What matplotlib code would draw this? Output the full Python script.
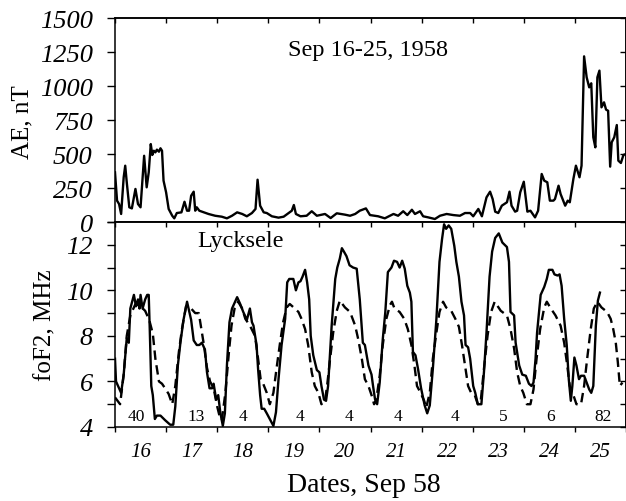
import matplotlib
matplotlib.use('Agg')
import matplotlib.pyplot as plt
from matplotlib.ticker import MultipleLocator, FixedLocator, NullFormatter

plt.rcParams['font.family'] = ['Liberation Serif', 'DejaVu Serif']

# AE index, nT
ae_day = [16.00, 16.04, 16.08, 16.12, 16.17, 16.20, 16.23, 16.28, 16.33, 16.40,
          16.45, 16.50, 16.57, 16.62, 16.66, 16.70, 16.73, 16.76, 16.79, 16.82,
          16.86, 16.89, 16.92, 16.95, 17.00, 17.05, 17.12, 17.16, 17.21, 17.30,
          17.36, 17.41, 17.45, 17.49, 17.54, 17.57, 17.60, 17.65, 17.74, 17.83,
          17.96, 18.09, 18.19, 18.29, 18.39, 18.49, 18.58, 18.68, 18.75, 18.79,
          18.84, 18.91, 18.97, 19.07, 19.20, 19.30, 19.40, 19.46, 19.50, 19.54,
          19.63, 19.75, 19.85, 19.95, 20.11, 20.22, 20.34, 20.50, 20.60, 20.70,
          20.79, 20.91, 20.99, 21.15, 21.28, 21.45, 21.54, 21.64, 21.72, 21.81,
          21.87, 21.97, 22.03, 22.13, 22.26, 22.36, 22.49, 22.62, 22.75, 22.85,
          22.95, 23.01, 23.11, 23.18, 23.27, 23.34, 23.39, 23.44, 23.50, 23.57,
          23.67, 23.72, 23.76, 23.83, 23.87, 23.93, 24.00, 24.07, 24.13, 24.22,
          24.28, 24.35, 24.40, 24.46, 24.51, 24.58, 24.61, 24.68, 24.72, 24.81,
          24.86, 24.90, 24.97, 25.02, 25.09, 25.13, 25.18, 25.23, 25.28, 25.32,
          25.36, 25.40, 25.44, 25.48, 25.52, 25.57, 25.61, 25.65, 25.69, 25.72,
          25.77, 25.82, 25.85, 25.90, 25.95, 26.00]
ae_nt = [365, 157, 132, 59, 329, 414, 292, 108, 100, 243,
         132, 108, 487, 255, 365, 573, 493, 524, 512, 532,
         517, 542, 524, 304, 218, 96, 46, 27, 66, 71,
         149, 83, 83, 193, 223, 83, 108, 83, 71, 59,
         46, 39, 27, 46, 71, 59, 42, 66, 96, 311,
         120, 71, 66, 42, 32, 39, 66, 83, 125, 59,
         42, 46, 79, 46, 59, 29, 64, 54, 46, 59,
         83, 100, 51, 42, 27, 59, 46, 79, 51, 90,
         59, 79, 42, 34, 22, 46, 59, 51, 46, 66,
         66, 42, 96, 42, 181, 223, 169, 76, 66, 120,
         145, 223, 120, 76, 83, 218, 296, 76, 83, 34,
         83, 353, 304, 292, 157, 157, 169, 267, 206, 120,
         157, 145, 316, 414, 329, 414, 1218, 1064, 990, 1020,
         623, 549, 1064, 1113, 843, 880, 826, 818, 407, 586,
         623, 713, 451, 434, 493, 500]

# foF2 observed at Lycksele, MHz
obs_day = [16.00, 16.02, 16.06, 16.12, 16.17, 16.23, 16.27, 16.30, 16.37, 16.41,
           16.45, 16.48, 16.50, 16.54, 16.59, 16.63, 16.66, 16.68, 16.71, 16.74,
           16.78, 16.82, 16.89, 16.98, 17.08, 17.14, 17.18, 17.23, 17.28, 17.34,
           17.41, 17.45, 17.49, 17.54, 17.60, 17.65, 17.70, 17.76, 17.80, 17.85,
           17.90, 17.93, 17.98, 18.02, 18.06, 18.11, 18.15, 18.19, 18.24, 18.29,
           18.39, 18.45, 18.51, 18.58, 18.64, 18.68, 18.71, 18.77, 18.80, 18.84,
           18.87, 18.92, 18.97, 19.03, 19.10, 19.15, 19.20, 19.26, 19.33, 19.37,
           19.41, 19.49, 19.54, 19.59, 19.63, 19.67, 19.72, 19.76, 19.80, 19.83,
           19.88, 19.95, 20.00, 20.04, 20.09, 20.13, 20.17, 20.24, 20.31, 20.35,
           20.40, 20.44, 20.48, 20.53, 20.59, 20.66, 20.73, 20.79, 20.85, 20.89,
           20.96, 21.02, 21.05, 21.09, 21.13, 21.18, 21.24, 21.29, 21.34, 21.41,
           21.46, 21.52, 21.57, 21.62, 21.67, 21.72, 21.77, 21.80, 21.83, 21.88,
           21.93, 21.99, 22.06, 22.11, 22.16, 22.22, 22.29, 22.35, 22.40, 22.44,
           22.48, 22.53, 22.58, 22.64, 22.68, 22.73, 22.78, 22.83, 22.86, 22.91,
           22.95, 23.01, 23.05, 23.10, 23.17, 23.22, 23.27, 23.33, 23.38, 23.44,
           23.51, 23.58, 23.67, 23.71, 23.74, 23.81, 23.84, 23.91, 23.97, 24.04,
           24.10, 24.15, 24.19, 24.23, 24.26, 24.33, 24.40, 24.45, 24.49, 24.56,
           24.60, 24.66, 24.70, 24.74, 24.79, 24.84, 24.88, 24.92, 24.95, 24.99,
           25.03, 25.08, 25.12, 25.18, 25.23, 25.28, 25.32, 25.36, 25.41, 25.45,
           25.49]
fof2_obs = [7.0, 6.0, 5.8, 5.5, 6.3, 7.9, 7.7, 9.2, 9.8, 9.3,
            9.6, 9.2, 9.8, 9.2, 9.6, 9.8, 9.8, 8.3, 5.8, 5.4,
            4.35, 4.5, 4.5, 4.3, 4.1, 4.1, 4.9, 6.7, 7.7, 8.7,
            9.5, 9.1, 8.7, 7.8, 7.6, 7.6, 7.7, 7.4, 6.4, 5.7,
            5.7, 5.9, 5.2, 5.4, 4.65, 4.05, 4.6, 6.7, 8.6, 9.2,
            9.7, 9.4, 9.05, 8.7, 9.2, 8.6, 8.45, 7.6, 6.55, 5.4,
            4.8, 4.8, 4.6, 4.35, 4.05, 4.65, 6.1, 7.6, 8.75, 10.35,
            10.5, 10.5, 10.0, 10.35, 10.4, 10.6, 10.9, 10.35, 9.6, 8.0,
            7.15, 6.5, 6.4, 5.8, 5.2, 5.15, 5.8, 8.45, 10.5, 11.0,
            11.4, 11.85, 11.7, 11.5, 11.1, 11.0, 10.95, 9.6, 7.7, 7.6,
            6.7, 6.3, 5.8, 5.2, 5.0, 5.95, 7.85, 9.05, 10.8, 11.0,
            11.3, 11.25, 11.0, 11.3, 10.95, 10.2, 9.9, 9.5, 7.3, 7.15,
            6.55, 5.7, 4.95, 4.6, 4.95, 6.55, 8.75, 11.25, 12.25, 12.9,
            12.7, 12.85, 12.7, 11.95, 11.25, 10.6, 9.5, 8.9, 7.6, 7.5,
            7.0, 5.8, 5.5, 5.0, 5.0, 6.4, 8.15, 10.6, 11.7, 12.3,
            12.5, 12.1, 11.9, 11.25, 9.05, 8.9, 7.7, 6.7, 6.3, 6.25,
            5.9, 5.8, 5.95, 7.0, 8.15, 9.8, 10.15, 10.5, 10.9, 10.9,
            10.7, 10.65, 10.7, 10.2, 8.75, 7.6, 6.1, 5.15, 5.8, 7.05,
            6.7, 6.1, 6.25, 6.25, 5.95, 5.65, 5.5, 5.8, 8.45, 9.55,
            9.9]

# foF2 median (dashed), MHz
med_day = [16.00, 16.10, 16.17, 16.23, 16.30, 16.40, 16.50, 16.59, 16.67, 16.74,
           16.79, 16.86, 16.92, 16.98, 17.05, 17.12, 17.18, 17.25, 17.31, 17.39,
           17.47, 17.57, 17.64, 17.69, 17.74, 17.80, 17.86, 17.93, 18.00, 18.06,
           18.09, 18.16, 18.23, 18.28, 18.34, 18.41, 18.49, 18.55, 18.64, 18.74,
           18.80, 18.85, 18.90, 18.97, 19.03, 19.10, 19.16, 19.23, 19.29, 19.36,
           19.42, 19.52, 19.59, 19.65, 19.72, 19.78, 19.85, 19.91, 19.98, 20.04,
           20.11, 20.15, 20.21, 20.27, 20.34, 20.40, 20.50, 20.60, 20.70, 20.76,
           20.83, 20.89, 20.96, 21.02, 21.07, 21.11, 21.18, 21.24, 21.31, 21.38,
           21.42, 21.47, 21.57, 21.66, 21.73, 21.80, 21.86, 21.91, 21.98, 22.05,
           22.09, 22.16, 22.22, 22.29, 22.35, 22.42, 22.48, 22.58, 22.66, 22.73,
           22.79, 22.85, 22.91, 22.97, 23.04, 23.10, 23.16, 23.22, 23.29, 23.36,
           23.43, 23.55, 23.67, 23.74, 23.81, 23.87, 23.93, 23.99, 24.06, 24.13,
           24.19, 24.25, 24.32, 24.40, 24.45, 24.53, 24.62, 24.72, 24.79, 24.85,
           24.90, 24.97, 25.03, 25.12, 25.18, 25.24, 25.31, 25.37, 25.44, 25.52,
           25.63, 25.70, 25.75, 25.80, 25.84, 25.88, 25.93]
fof2_med = [5.3, 5.0, 6.3, 8.0, 8.9, 9.4, 9.3, 9.1, 8.7, 8.1,
            7.0, 6.0, 5.9, 5.7, 5.45, 5.0, 5.8, 7.3, 8.3, 9.3,
            9.25, 9.0, 9.0, 8.3, 7.6, 6.6, 6.0, 5.7, 4.9, 4.35,
            4.3, 5.5, 7.3, 8.45, 9.2, 9.5, 9.2, 8.75, 8.45, 8.0,
            7.0, 6.1, 5.9, 5.5, 5.0, 5.5, 6.55, 7.7, 8.6, 9.25,
            9.4, 9.2, 9.05, 8.75, 8.3, 7.6, 6.4, 5.8, 5.5, 5.0,
            5.15, 5.8, 7.0, 8.15, 9.1, 9.55, 9.25, 9.05, 8.45, 7.85,
            7.0, 6.1, 5.8, 5.4, 5.0, 5.15, 6.25, 7.6, 8.75, 9.35,
            9.5, 9.2, 9.05, 8.75, 8.3, 7.6, 6.7, 5.8, 5.5, 5.15,
            4.85, 5.5, 7.0, 8.15, 9.05, 9.5, 9.25, 9.1, 8.75, 8.4,
            7.6, 6.7, 5.8, 5.5, 5.4, 5.0, 5.2, 6.55, 8.0, 9.05,
            9.5, 9.1, 8.9, 8.3, 7.45, 6.4, 5.8, 5.5, 5.0, 5.0,
            5.65, 7.0, 8.3, 9.25, 9.5, 9.2, 8.9, 8.45, 7.7, 6.7,
            5.8, 5.4, 5.0, 5.0, 5.8, 7.0, 8.3, 9.2, 9.5, 9.25,
            9.05, 8.75, 8.3, 7.7, 6.85, 5.8, 5.95]

# daily numbers written along the bottom of the foF2 panel
num_day = [16.41, 17.58, 18.50, 19.62, 20.58, 21.54, 22.65, 23.59, 24.53, 25.55]
num_txt = ['40', '13', '4', '4', '4', '4', '4', '5', '6', '82']

ae_ticks = [0, 250, 500, 750, 1000, 1250, 1500]
fof2_ticks = [4, 6, 8, 10, 12]
day_ticks = list(range(16, 27))
day_labels = [str(d) for d in range(16, 26)]

fig = plt.figure(figsize=(6.26, 5.02), dpi=100)
ax1 = fig.add_axes([115 / 626, 1 - 223 / 502, 511 / 626, 204 / 502])
ax2 = fig.add_axes([115 / 626, 1 - 428 / 502, 511 / 626, 205 / 502])

lw = 1.7
ax1.plot(ae_day, ae_nt, color='black', lw=lw)
ax2.plot(obs_day, fof2_obs, color='black', lw=lw)
ax2.plot(med_day, fof2_med, color='black', lw=lw, dashes=(4, 2.3))

for d, t in zip(num_day, num_txt):
    ax2.text(d, 4.48, t, ha='center', va='center', fontsize=12.5)

ax1.text(20.95, 1270, 'Sep 16-25, 1958', ha='center', va='center', fontsize=17.5)
ax2.text(18.45, 12.2, 'Lycksele', ha='center', va='center', fontsize=17.5)

# upper panel
ax1.set_xlim(16, 26)
ax1.set_ylim(0, 1500)
ax1.set_yticks(ae_ticks, [str(v) for v in ae_ticks], fontsize=19, fontstyle='italic')
ax1.tick_params(axis='y', direction='out', length=6, width=1, pad=10)
ax1.tick_params(axis='x', bottom=False, labelbottom=False)
top1 = ax1.secondary_xaxis('top')
top1.xaxis.set_major_locator(FixedLocator(day_ticks))
top1.tick_params(direction='in', length=3.5, width=1, labeltop=False)
right1 = ax1.secondary_yaxis('right')
right1.yaxis.set_major_locator(MultipleLocator(250))
right1.tick_params(direction='in', length=4.5, width=1, labelright=False)

# lower panel
ax2.set_xlim(16, 26)
ax2.set_ylim(4, 13)
ax2.set_yticks(fof2_ticks, [str(v) for v in fof2_ticks], fontsize=19, fontstyle='italic')
ax2.yaxis.set_minor_locator(FixedLocator([5, 7, 9, 11, 13]))
ax2.tick_params(axis='y', which='both', direction='out', length=6, width=1, pad=10)
ax2.xaxis.set_major_locator(FixedLocator(day_ticks))
ax2.xaxis.set_major_formatter(NullFormatter())
ax2.xaxis.set_minor_locator(FixedLocator([d + 0.5 for d in range(16, 26)]))
ax2.set_xticklabels(day_labels, minor=True, fontsize=15, fontstyle='italic')
ax2.tick_params(axis='x', which='major', direction='out', length=3.5, width=1)
ax2.tick_params(axis='x', which='minor', length=0, pad=11)
top2 = ax2.secondary_xaxis('top')
top2.xaxis.set_major_locator(FixedLocator(day_ticks))
top2.tick_params(direction='in', length=3.5, width=1, labeltop=False)
right2 = ax2.secondary_yaxis('right')
right2.yaxis.set_major_locator(MultipleLocator(1))
right2.tick_params(direction='in', length=4.5, width=1, labelright=False)

for a in (ax1, ax2, top1, top2, right1, right2):
    for s in a.spines.values():
        s.set_linewidth(1.1)

fig.text(22 / 626, 1 - 122 / 502, 'AE, nT', rotation=90, ha='center', va='center', fontsize=18)
fig.text(45 / 626, 1 - 325 / 502, 'foF2, MHz', rotation=90, ha='center', va='center', fontsize=18)
fig.text(364 / 626, 1 - 486 / 502, 'Dates, Sep 58', ha='center', va='center', fontsize=20)

fig.savefig('out.png', dpi=100)
